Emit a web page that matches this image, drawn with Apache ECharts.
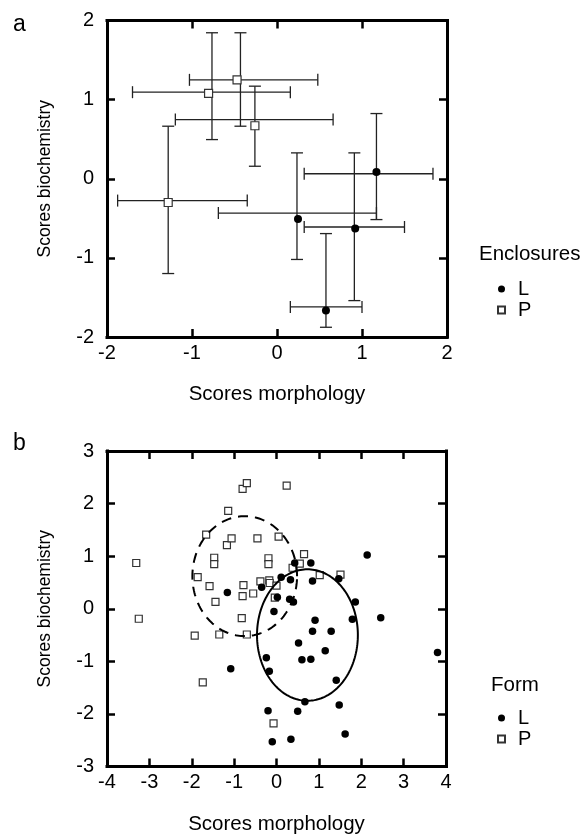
<!DOCTYPE html>
<html><head><meta charset="utf-8">
<script src="https://cdn.jsdelivr.net/npm/echarts@6/dist/echarts.min.js"></script>
<style>html,body{margin:0;padding:0;background:#fff}#c{width:586px;height:835px}</style>
</head><body><div id="c"></div>
<script>
// ---------- Panel a: enclosure means with error bars ----------
// L enclosures
const aL_x      = [1.17, 0.247, 0.92, 0.576];
const aL_y      = [0.085, -0.51, -0.63, -1.665];
const aL_hbarY  = [0.063, -0.434, -0.61, -1.62];
const aL_xLow   = [0.32, -0.69, 0.32, 0.157];
const aL_xHigh  = [1.835, 1.17, 1.50, 1.0];
const aL_vbarX  = [1.17, 0.235, 0.91, 0.576];
const aL_yLow   = [-0.516, -1.02, -1.54, -1.877];
const aL_yHigh  = [0.824, 0.327, 0.327, -0.693];
// P enclosures
const aP_x      = [-0.805, -0.47, -0.26, -1.28];
const aP_y      = [1.08, 1.25, 0.67, -0.30];
const aP_hbarY  = [1.094, 1.25, 0.748, -0.276];
const aP_xLow   = [-1.70, -1.03, -1.196, -1.875];
const aP_xHigh  = [0.157, 0.48, 0.66, -0.35];
const aP_vbarX  = [-0.765, -0.43, -0.26, -1.28];
const aP_yLow   = [0.495, 0.664, 0.158, -1.198];
const aP_yHigh  = [1.845, 1.845, 1.17, 0.664];

// ---------- Panel b: individuals by form ----------
const bL_x = [-1.16,-1.08,-0.35,-0.24,-0.17,-0.06,0.02,0.11,-0.20,-0.10,0.33,0.31,0.40,0.43,0.81,0.50,0.34,0.52,0.60,0.81,0.67,0.85,0.85,0.91,1.29,1.15,1.47,1.41,1.48,1.62,1.86,1.79,2.14,2.46,3.80];
const bL_y = [0.31,-1.14,0.41,-0.93,-1.19,-0.05,0.22,0.60,-1.94,-2.53,0.55,0.18,0.13,0.87,0.87,-1.95,-2.48,-0.65,-0.97,-0.96,-1.77,0.53,-0.43,-0.22,-0.43,-0.80,0.57,-1.36,-1.83,-2.38,0.13,-0.20,1.02,-0.17,-0.83];
const bP_x = [-3.31,-3.25,-1.93,-1.74,-1.86,-1.66,-1.58,-1.47,-1.47,-1.44,-1.35,-1.17,-1.06,-1.14,-0.80,-0.70,-0.82,-0.80,-0.78,-0.70,-0.55,-0.45,-0.38,-0.19,-0.19,-0.17,-0.16,-0.04,0.00,0.05,0.24,0.38,0.55,0.65,1.02,1.51,-0.07];
const bP_y = [0.87,-0.19,-0.51,-1.40,0.60,1.41,0.43,0.97,0.85,0.13,-0.49,1.21,1.34,1.86,2.28,2.39,-0.18,0.24,0.45,-0.49,0.29,1.34,0.52,0.96,0.85,0.54,0.49,0.21,0.44,1.37,2.34,0.78,0.86,1.04,0.64,0.65,-2.18];
// Ellipses: [centerX, centerY, radiusX, radiusY]
const ellipseL = [0.73, -0.50, 1.19, 1.25];
const ellipseP = [-0.75, 0.62, 1.235, 1.14];

// ---------- Axis ticks ----------
const aTicks = {min: -2, max: 2, interval: 1};
const bTicks = {min: -4, max: 4, interval: 1, ymin: -3, ymax: 3};

const FONT = 'Liberation Sans, Arial, sans-serif';
const zip = (...arrs) => arrs[0].map((_, i) => arrs.map(a => a[i]));

function axis(isX, grid, min, max, pos, labels, name) {
  const o = {
    type: 'value', gridIndex: grid, min: min, max: max, interval: 1, position: pos,
    axisLine: {show: true, onZero: false, lineStyle: {color: '#000', width: 3, cap: 'square'}},
    axisTick: {show: true, inside: true, length: 8, lineStyle: {color: '#000', width: 2.5}},
    splitLine: {show: false},
    axisLabel: {show: labels, color: '#000', fontFamily: FONT, fontSize: 20, margin: isX ? 6 : 13},
  };
  if (name) {
    o.name = name; o.nameLocation = 'middle';
    o.nameTextStyle = {color: '#000', fontFamily: FONT, fontSize: isX ? 20.5 : 17.5};
    o.nameGap = isX ? 47 : 53;
  }
  return o;
}

function errRender(params, api) {
  const hy = api.value(2), xl = api.value(3), xh = api.value(4);
  const vx = api.value(5), yl = api.value(6), yh = api.value(7);
  const a = api.coord([xl, hy]), b = api.coord([xh, hy]);
  const c = api.coord([vx, yl]), d = api.coord([vx, yh]);
  const cap = 6;
  const st = {stroke: '#222', lineWidth: 1.3};
  const L = (x1, y1, x2, y2) => ({type: 'line', shape: {x1, y1, x2, y2}, style: st});
  return {type: 'group', children: [
    L(a[0], a[1], b[0], b[1]),
    L(a[0], a[1] - cap, a[0], a[1] + cap),
    L(b[0], b[1] - cap, b[0], b[1] + cap),
    L(c[0], c[1], d[0], d[1]),
    L(c[0] - cap, c[1], c[0] + cap, c[1]),
    L(d[0] - cap, d[1], d[0] + cap, d[1]),
  ]};
}

function ellRender(dash) {
  return function (params, api) {
    const cx = api.value(0), cy = api.value(1), rx = api.value(2), ry = api.value(3);
    const pts = [];
    for (let i = 0; i <= 180; i++) {
      const t = i / 180 * Math.PI * 2;
      pts.push(api.coord([cx + rx * Math.cos(t), cy + ry * Math.sin(t)]));
    }
    return {type: 'polyline', shape: {points: pts},
      style: {stroke: '#000', lineWidth: 2, fill: null, lineDash: dash}};
  };
}

const chart = echarts.init(document.getElementById('c'), null, {renderer: 'canvas'});
const legendBase = {
  orient: 'vertical', left: 497, itemWidth: 7, itemHeight: 7, itemGap: 1, padding: 0,
  selectedMode: false,
  textStyle: {color: '#000', fontFamily: FONT, fontSize: 20, lineHeight: 20, padding: [0, 0, 0, 8]},
  data: [{name: 'L', icon: 'circle'}, {name: 'P', icon: 'rect'}]
};
const titleStyle = (s) => ({color: '#000', fontFamily: FONT, fontSize: s, fontWeight: 'normal'});

chart.setOption({
  animation: false,
  backgroundColor: '#fff',
  title: [
    {text: 'a', left: 13, top: 13, padding: 0, textStyle: titleStyle(23)},
    {text: 'b', left: 13, top: 432, padding: 0, textStyle: titleStyle(23)},
    {text: 'Enclosures', left: 479, top: 244, padding: 0, textStyle: titleStyle(20.5)},
    {text: 'Form', left: 491, top: 675, padding: 0, textStyle: titleStyle(20.5)},
  ],
  legend: [
    Object.assign({}, legendBase, {top: 279}),
    Object.assign({}, legendBase, {top: 708}),
  ],
  grid: [
    {left: 107, top: 20.5, width: 340, height: 316.5, outerBoundsMode: 'none'},
    {left: 107, top: 451, width: 339, height: 315.5, outerBoundsMode: 'none'},
  ],
  xAxis: [
    axis(true, 0, aTicks.min, aTicks.max, 'bottom', true, 'Scores morphology'),
    axis(true, 0, aTicks.min, aTicks.max, 'top', false),
    axis(true, 1, bTicks.min, bTicks.max, 'bottom', true, 'Scores morphology'),
    axis(true, 1, bTicks.min, bTicks.max, 'top', false),
  ],
  yAxis: [
    axis(false, 0, aTicks.min, aTicks.max, 'left', true, 'Scores biochemistry'),
    axis(false, 0, aTicks.min, aTicks.max, 'right', false),
    axis(false, 1, bTicks.ymin, bTicks.ymax, 'left', true, 'Scores biochemistry'),
    axis(false, 1, bTicks.ymin, bTicks.ymax, 'right', false),
  ],
  series: [
    {type: 'custom', name: 'errL', xAxisIndex: 0, yAxisIndex: 0, renderItem: errRender,
     encode: {x: 0, y: 1}, z: 2,
     data: zip(aL_x, aL_y, aL_hbarY, aL_xLow, aL_xHigh, aL_vbarX, aL_yLow, aL_yHigh)},
    {type: 'custom', name: 'errP', xAxisIndex: 0, yAxisIndex: 0, renderItem: errRender,
     encode: {x: 0, y: 1}, z: 2,
     data: zip(aP_x, aP_y, aP_hbarY, aP_xLow, aP_xHigh, aP_vbarX, aP_yLow, aP_yHigh)},
    {type: 'scatter', name: 'L', xAxisIndex: 0, yAxisIndex: 0, symbol: 'circle', symbolSize: 8, z: 3,
     itemStyle: {color: '#000', opacity: 1}, data: zip(aL_x, aL_y)},
    {type: 'scatter', name: 'P', xAxisIndex: 0, yAxisIndex: 0, symbol: 'rect', symbolSize: 8, z: 3,
     itemStyle: {color: '#fff', borderColor: '#333', borderWidth: 1.2, opacity: 1}, data: zip(aP_x, aP_y)},
    {type: 'scatter', name: 'P', xAxisIndex: 2, yAxisIndex: 2, symbol: 'rect', symbolSize: 7, z: 3,
     itemStyle: {color: '#fff', borderColor: '#333', borderWidth: 1.2, opacity: 1}, data: zip(bP_x, bP_y)},
    {type: 'scatter', name: 'L', xAxisIndex: 2, yAxisIndex: 2, symbol: 'circle', symbolSize: 7.5, z: 3,
     itemStyle: {color: '#000', opacity: 1}, data: zip(bL_x, bL_y)},
    {type: 'custom', name: 'ellL', xAxisIndex: 2, yAxisIndex: 2, renderItem: ellRender(null),
     encode: {x: 0, y: 1}, z: 4, data: [ellipseL]},
    {type: 'custom', name: 'ellP', xAxisIndex: 2, yAxisIndex: 2, renderItem: ellRender([10, 7]),
     encode: {x: 0, y: 1}, z: 4, data: [ellipseP]},
  ]
});
</script></body></html>
